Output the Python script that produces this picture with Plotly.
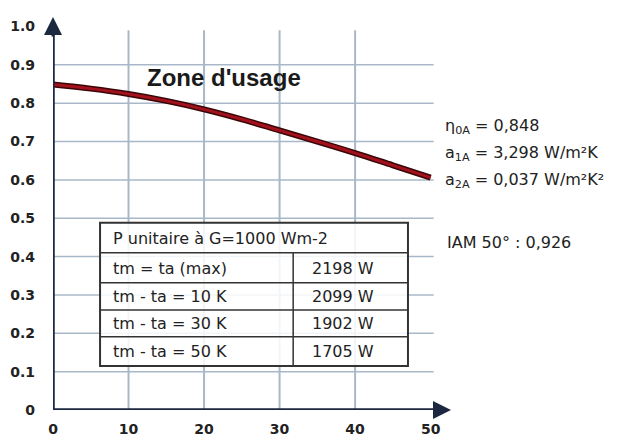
import plotly.graph_objects as go

# ---- data ----
delta_t = [0, 5, 10, 15, 20, 25, 30, 35, 40, 45, 50]
efficiency = [0.849, 0.838, 0.824, 0.806, 0.784, 0.758, 0.729, 0.700, 0.670, 0.638, 0.606]

x_ticks = [0, 10, 20, 30, 40, 50]
x_ticktext = ["0", "10", "20", "30", "40", "50"]
y_ticks = [0, 0.1, 0.2, 0.3, 0.4, 0.5, 0.6, 0.7, 0.8, 0.9, 1.0]
y_ticktext = ["0", "0.1", "0.2", "0.3", "0.4", "0.5", "0.6", "0.7", "0.8", "0.9", "1.0"]

grid_x = [10, 20, 30, 40]
grid_y = [0.1, 0.2, 0.3, 0.4, 0.5, 0.6, 0.7, 0.8, 0.9]

table_header = "P unitaire à G=1000 Wm-2"
table_labels = ["tm = ta (max)", "tm - ta = 10 K", "tm - ta = 30 K", "tm - ta = 50 K"]
table_values = ["2198 W", "2099 W", "1902 W", "1705 W"]

param_lines = [
    "η<sub>0A</sub> = 0,848",
    "a<sub>1A</sub> = 3,298 W/m²K",
    "a<sub>2A</sub> = 0,037 W/m²K²",
]
iam_text = "IAM 50° : 0,926"

NAVY = "#1c2740"
GRID = "#a9b8c9"
TXT = "#222222"
FONT = "DejaVu Sans"

fig = go.Figure()

# curve: dark edge + red core
fig.add_trace(go.Scatter(x=delta_t, y=efficiency, mode="lines",
                         line=dict(color="#3a0608", width=6, shape="spline"),
                         hoverinfo="skip", showlegend=False))
fig.add_trace(go.Scatter(x=delta_t, y=efficiency, mode="lines",
                         line=dict(color="#a3121c", width=3, shape="spline"),
                         hoverinfo="skip", showlegend=False))

shapes = []
for gy in grid_y:
    shapes.append(dict(type="line", xref="x", yref="y", x0=0, x1=50.4, y0=gy, y1=gy,
                       line=dict(color=GRID, width=1.5), layer="below"))
for gx in grid_x:
    shapes.append(dict(type="line", xref="x", yref="y", x0=gx, x1=gx, y0=0, y1=0.99,
                       line=dict(color=GRID, width=2), layer="below"))

# table
tl, tr, tdiv = 6.23, 47.0, 31.8
row_lines = [0.488, 0.410, 0.332, 0.261, 0.191, 0.115]
shapes.append(dict(type="rect", xref="x", yref="y", x0=tl, x1=tr, y0=row_lines[-1], y1=row_lines[0],
                   fillcolor="rgba(255,255,255,0.85)", line=dict(color="#333333", width=2), layer="above"))
for ry in row_lines[1:-1]:
    shapes.append(dict(type="line", xref="x", yref="y", x0=tl, x1=tr, y0=ry, y1=ry,
                       line=dict(color="#333333", width=1.5)))
shapes.append(dict(type="line", xref="x", yref="y", x0=tdiv, x1=tdiv, y0=row_lines[-1], y1=row_lines[1],
                   line=dict(color="#333333", width=1.5)))

# axes lines
shapes.append(dict(type="line", xref="x", yref="y", x0=0, x1=51.5, y0=0, y1=0,
                   line=dict(color=NAVY, width=3.5)))
shapes.append(dict(type="line", xref="x", yref="y", x0=0, x1=0, y0=0, y1=1.0,
                   line=dict(color=NAVY, width=3.5)))

annotations = []
# arrowheads
annotations.append(dict(x=52.7, y=0, ax=50.5, ay=0, xref="x", yref="y", axref="x", ayref="y",
                        text="", showarrow=True, arrowhead=2, arrowsize=1.2, arrowwidth=3, arrowcolor=NAVY))
annotations.append(dict(x=0, y=1.025, ax=0, ay=0.97, xref="x", yref="y", axref="x", ayref="y",
                        text="", showarrow=True, arrowhead=2, arrowsize=1.2, arrowwidth=3, arrowcolor=NAVY))

annotations.append(dict(x=54.2, y=0, xref="x", yref="y", xanchor="left", yanchor="middle",
                        text="(ΔT °C)", showarrow=False, font=dict(family=FONT, size=15, color=TXT)))
annotations.append(dict(x=22.6, y=0.867, xref="x", yref="y", xanchor="center", yanchor="middle",
                        text="<b>Zone d'usage</b>", showarrow=False,
                        font=dict(family="Liberation Sans", size=24, color="#1a1a1a")))

# table text
annotations.append(dict(x=7.7, y=0.447, xref="x", yref="y", xanchor="left", yanchor="middle",
                        text=table_header, showarrow=False, font=dict(family=FONT, size=16, color=TXT)))
row_text_y = [0.368, 0.296, 0.226, 0.152]
for lab, val, ty in zip(table_labels, table_values, row_text_y):
    annotations.append(dict(x=7.7, y=ty, xref="x", yref="y", xanchor="left", yanchor="middle",
                            text=lab, showarrow=False, font=dict(family=FONT, size=16, color=TXT)))
    annotations.append(dict(x=38.4, y=ty, xref="x", yref="y", xanchor="center", yanchor="middle",
                            text=val, showarrow=False, font=dict(family=FONT, size=16, color=TXT)))

# parameters
param_y = [0.740, 0.670, 0.598]
for t, py in zip(param_lines, param_y):
    annotations.append(dict(x=51.6, y=py, xref="x", yref="y", xanchor="left", yanchor="middle",
                            text=t, showarrow=False, font=dict(family=FONT, size=16, color=TXT)))
annotations.append(dict(x=51.9, y=0.436, xref="x", yref="y", xanchor="left", yanchor="middle",
                        text=iam_text, showarrow=False, font=dict(family=FONT, size=16, color=TXT)))

# The page body has an 8px margin, so the figure is drawn 8px smaller and offset.
fig.update_layout(
    width=619, height=430,
    margin=dict(l=45, r=179, t=7, b=28),
    paper_bgcolor="white", plot_bgcolor="white",
    shapes=shapes, annotations=annotations,
    xaxis=dict(range=[0, 52.3], showgrid=False, zeroline=False, showline=False, automargin=False,
               tickvals=x_ticks, ticktext=x_ticktext, ticks="", ticklabelstandoff=9,
               tickfont=dict(family=FONT, size=14, color=TXT, weight="bold")),
    yaxis=dict(range=[0, 1.03], showgrid=False, zeroline=False, showline=False, automargin=False,
               tickvals=y_ticks, ticktext=y_ticktext, ticks="", ticklabelstandoff=17,
               tickfont=dict(family=FONT, size=14, color=TXT, weight="bold")),
    showlegend=False,
)

fig.write_html("out.html")
